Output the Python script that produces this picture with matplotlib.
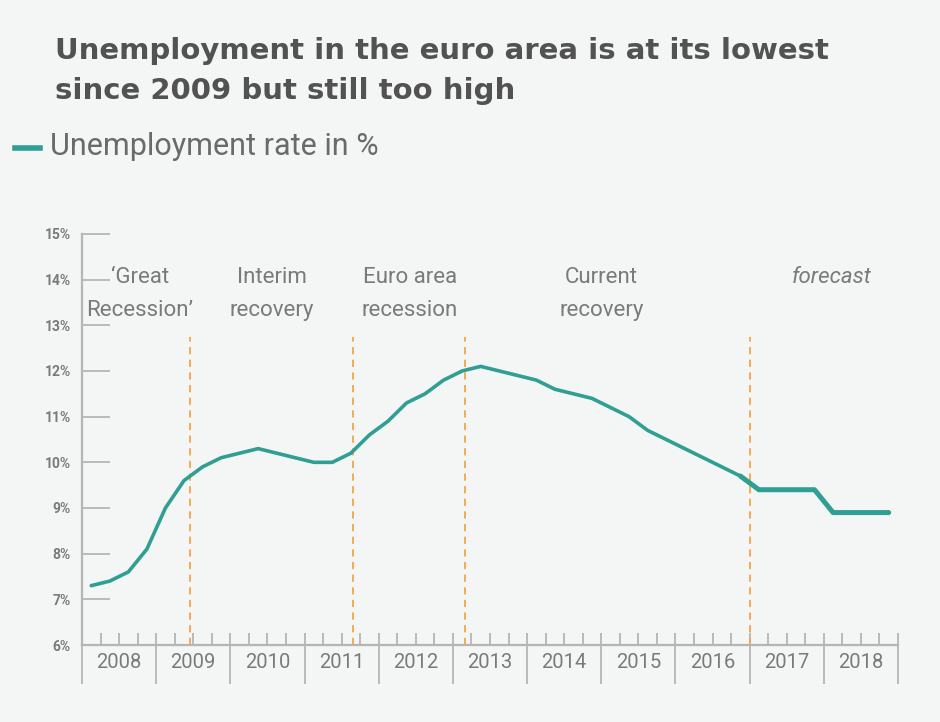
import numpy as np
import matplotlib.pyplot as plt

# ---------- data ----------
years = list(range(2008, 2017))
quarterly = [
    7.3, 7.4, 7.6, 8.1,      # 2008
    9.0, 9.6, 9.9, 10.1,     # 2009
    10.2, 10.3, 10.2, 10.1,  # 2010
    10.0, 10.0, 10.2, 10.6,  # 2011
    10.9, 11.3, 11.5, 11.8,  # 2012
    12.0, 12.1, 12.0, 11.9,  # 2013
    11.8, 11.6, 11.5, 11.4,  # 2014
    11.2, 11.0, 10.7, 10.5,  # 2015
    10.3, 10.1, 9.9, 9.7,    # 2016
]
forecast_years = [2017, 2018]
forecast_rates = [9.4, 8.9]

phase_breaks = [2009.45, 2011.65, 2013.17, 2017.0]
phase_labels = ["\u2018Great\nRecession\u2019", "Interim\nrecovery",
                "Euro area\nrecession", "Current\nrecovery"]
phase_label_x = [2008.78, 2010.56, 2012.42, 2015.0]
forecast_label_x = 2018.1

year_labels = list(range(2008, 2019))
y_ticks = list(range(6, 16))

# ---------- style ----------
BG = "#f4f5f5"
TEAL = "#2f9f94"
ORANGE = "#f5a54a"
GREY = "#7a7a7a"
AXIS = "#b5b5b5"
FONT = "Roboto"

fig = plt.figure(figsize=(9.4, 7.22), dpi=100, facecolor=BG)
ax = fig.add_axes([0.0872, 0.1066, 0.8681, 0.5694], facecolor=BG)

# quarterly x positions at quarter midpoints
qx = [y + (q - 0.5) / 4 for y in years for q in range(1, 5)]
fx = [y + (q - 0.5) / 4 for y in forecast_years for q in range(1, 5)]
fy = [r for r in forecast_rates for _ in range(4)]

ax.plot(qx, quarterly, color=TEAL, lw=2.6, solid_capstyle="round",
        solid_joinstyle="round", zorder=3)
ax.plot([qx[-1]] + fx, [quarterly[-1]] + fy, color=TEAL, lw=3.6,
        solid_capstyle="round", solid_joinstyle="round", zorder=3)

for xb in phase_breaks:
    ax.axvline(xb, ymin=0, ymax=0.75, color=ORANGE, lw=1.3,
               dashes=(4, 3), zorder=2)

for lab, lx in zip(phase_labels, phase_label_x):
    ax.text(lx, 13.68, lab, ha="center", va="center", fontsize=16,
            family=FONT, color=GREY, linespacing=1.75)
ax.text(forecast_label_x, 14.05, "forecast", ha="center", va="center",
        fontsize=16, family=FONT, color=GREY, style="italic")

ax.set_xlim(2008, 2019)
ax.set_ylim(6, 15)

ax.set_yticks(y_ticks)
ax.set_yticklabels([f"{v}%" for v in y_ticks], fontsize=10, fontweight="bold",
                   color=GREY, family=FONT)
ax.tick_params(axis="y", direction="in", length=20, width=1.3,
               color=AXIS, pad=8)

ax.xaxis.remove_overlapping_locs = False
ax.set_xticks(year_labels + [2019])
ax.set_xticklabels([])
ax.set_xticks(np.arange(2008, 2019.01, 0.25), minor=True)
ax.tick_params(axis="x", which="major", direction="out", length=28,
               width=1.3, color=AXIS)
ax.tick_params(axis="x", which="minor", direction="in", length=9,
               width=1.3, color=AXIS)

for yr in year_labels:
    ax.text(yr + 0.5, -0.043, str(yr), transform=ax.get_xaxis_transform(),
            ha="center", va="center", fontsize=14.5, family=FONT, color=GREY)

for s in ["top", "right"]:
    ax.spines[s].set_visible(False)
for s in ["left", "bottom"]:
    ax.spines[s].set_color(AXIS)
    ax.spines[s].set_linewidth(1.6)

# ---------- title & legend ----------
fig.text(0.058, 0.902, "Unemployment in the euro area is at its lowest\n"
         "since 2009 but still too high", ha="left", va="center",
         fontsize=21, fontweight="bold", color="#525252", linespacing=1.55)
fig.lines.append(plt.Line2D([0.016, 0.043], [0.795, 0.795],
                            transform=fig.transFigure, color=TEAL, lw=4))
fig.text(0.053, 0.797, "Unemployment rate in %", ha="left", va="center",
         fontsize=22, family=FONT, color="#6a6a6a")

fig.savefig("out.png", dpi=100, facecolor=BG)
